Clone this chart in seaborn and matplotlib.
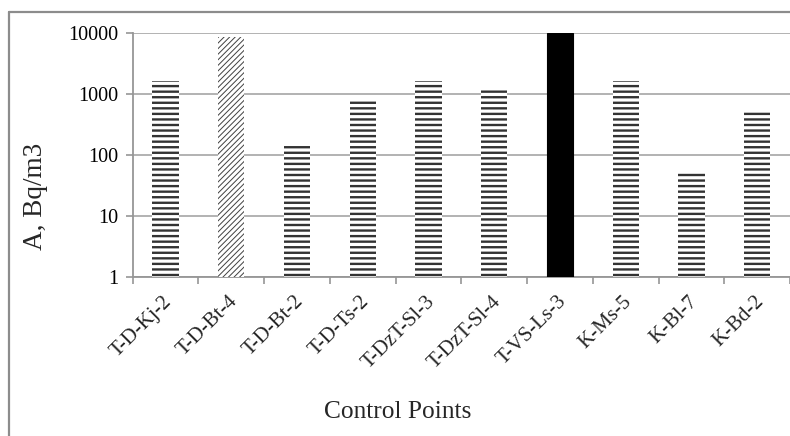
import matplotlib
matplotlib.use("Agg")
import matplotlib.pyplot as plt
import matplotlib.transforms as mtrans
import seaborn as sns
import numpy as np
from matplotlib.lines import Line2D
from matplotlib.ticker import FixedLocator, NullLocator

categories = ["T-D-Kj-2", "T-D-Bt-4", "T-D-Bt-2", "T-D-Ts-2", "T-DzT-Sl-3",
              "T-DzT-Sl-4", "T-VS-Ls-3", "K-Ms-5", "K-Bl-7", "K-Bd-2"]
values = [1670, 8600, 140, 800, 1670, 1160, 10000, 1670, 55, 540]
yticks = [1, 10, 100, 1000, 10000]
ytick_labels = ["1", "10", "100", "1000", "10000"]

sns.set_theme(style="white")
plt.rcParams["font.family"] = ["Liberation Serif", "DejaVu Serif"]
plt.rcParams["hatch.linewidth"] = 1.7

fig = plt.figure(figsize=(7.9, 4.36), dpi=100)
ax = fig.add_axes([132.7 / 790, 1 - 277.3 / 436, (790 - 132.7) / 790, (277.3 - 33.3) / 436])

sns.barplot(x=categories, y=values, ax=ax, width=0.4, color="white",
            edgecolor="#333333", linewidth=0, zorder=3)
ax.set_yscale("log")
ax.set_ylim(1, 10000)
ax.set_xlim(-0.5, len(categories) - 0.5)

for i, p in enumerate(ax.patches):
    if i == 1:
        p.set_hatch("//////")
        p.set_facecolor("white")
        p.set_edgecolor("#404040")
        if hasattr(p, "set_hatch_linewidth"):
            p.set_hatch_linewidth(0.7)
    elif i == 6:
        p.set_facecolor("black")
        p.set_edgecolor("black")
        p.set_linewidth(0.8)
    else:
        p.set_hatch("---")
        p.set_facecolor("white")
        p.set_edgecolor("#333333")

ax.yaxis.set_major_locator(FixedLocator(yticks))
ax.yaxis.set_minor_locator(NullLocator())
ax.set_yticklabels(ytick_labels)
ax.grid(axis="y", color="#a6a6a6", linewidth=1.2, zorder=0)
ax.set_axisbelow(True)
for s in ["top", "right"]:
    ax.spines[s].set_visible(False)
for s in ["left", "bottom"]:
    ax.spines[s].set_color("#969696")
    ax.spines[s].set_linewidth(1.3)

ax.tick_params(axis="y", which="major", left=True, length=5, width=1.2,
               color="#969696", pad=5, labelsize=14.5, labelcolor="black")

ax.set_xticks(range(len(categories)))
ax.set_xticks(np.arange(-0.5, len(categories), 1.0), minor=True)
ax.tick_params(axis="x", which="major", bottom=False, length=0, pad=2)
ax.tick_params(axis="x", which="minor", bottom=True, length=5, width=1.2,
               color="#969696")
ax.set_xticklabels(categories, rotation=45, ha="right", rotation_mode="anchor",
                   fontsize=15)
offset = mtrans.ScaledTranslation(-3 / 100, -12 / 100, fig.dpi_scale_trans)
for lab in ax.get_xticklabels():
    lab.set_transform(lab.get_transform() + offset)

ax.set_xlabel("")
ax.set_ylabel("")
fig.text(398 / 790, 1 - 412 / 436, "Control Points", ha="center", va="center",
         fontsize=18.3)
fig.text(35 / 790, 1 - 196 / 436, "A, Bq/m3", ha="center", va="center",
         rotation=90, fontsize=19.5)

fig.add_artist(Line2D([9 / 790, 9 / 790], [0, 1 - 12 / 436], transform=fig.transFigure,
                      color="#8c8c8c", linewidth=1.6))
fig.add_artist(Line2D([9 / 790, 1], [1 - 12 / 436, 1 - 12 / 436], transform=fig.transFigure,
                      color="#8c8c8c", linewidth=1.6))

fig.savefig("out.png", dpi=100)
